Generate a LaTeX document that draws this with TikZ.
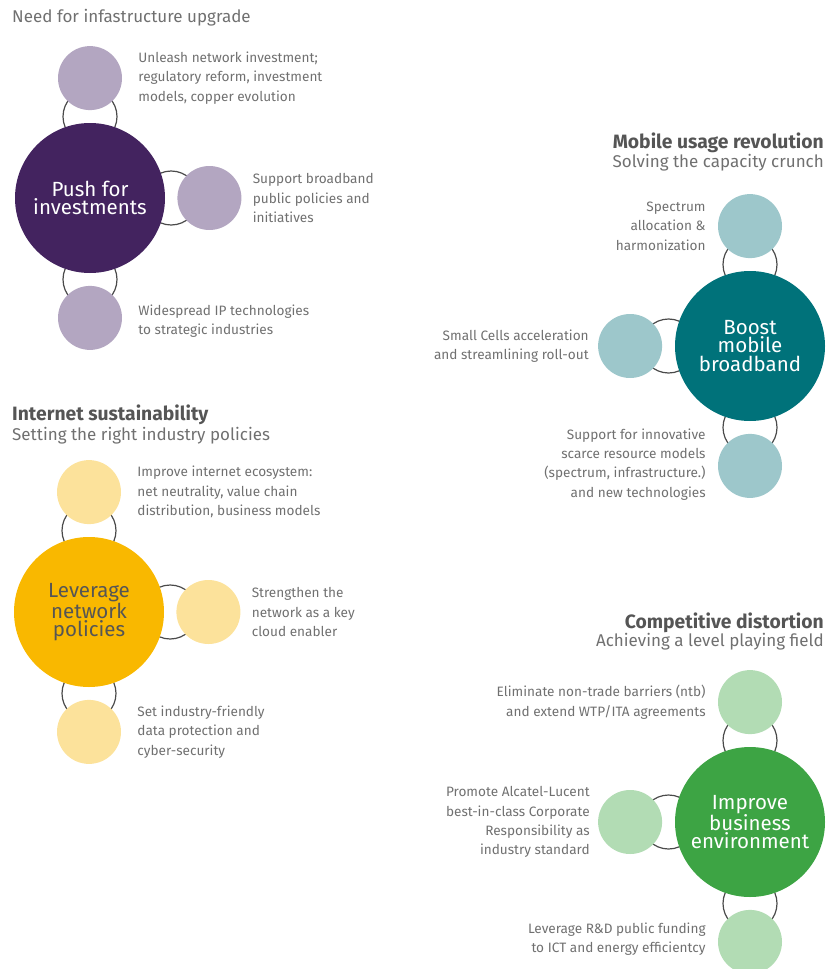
\documentclass[tikz,border=0pt]{standalone}
\usepackage{fontspec}
\setmainfont{Fira Sans}
\usepackage{xcolor}
\usetikzlibrary{positioning, backgrounds, calc}

\definecolor{purpleDark}{HTML}{43235F}
\definecolor{purpleLight}{HTML}{B3A6C1}
\definecolor{tealDark}{HTML}{00727A}
\definecolor{tealLight}{HTML}{9DC7CB}
\definecolor{yellowDark}{HTML}{F9B800}
\definecolor{yellowLight}{HTML}{FCE29B}
\definecolor{greenDark}{HTML}{3DA444}
\definecolor{greenLight}{HTML}{B2DCB4}
\definecolor{noteGray}{HTML}{707070}
\definecolor{headGray}{HTML}{555555}
\definecolor{ringGray}{HTML}{4A4A4A}

\begin{document}
\begin{tikzpicture}[x=1pt, y=1pt,
		hub/.style={circle, minimum size=150pt, inner sep=0pt, align=center, text=white,
			font=\fontsize{20.5}{18.5}\selectfont},
		spoke/.style={circle, minimum size=64pt, inner sep=0pt},
		ring/.style={circle, draw=ringGray, line width=1.2pt, minimum size=54pt, inner sep=0pt},
		note/.style={text=noteGray, inner sep=0pt, font=\fontsize{13.6}{19.3}\selectfont},
		head/.style={text=headGray, inner sep=0pt, font=\bfseries\fontsize{19.3}{20}\selectfont},
		subhead/.style={text=noteGray, inner sep=0pt, font=\fontsize{17}{20}\selectfont}]
		\useasboundingbox (0,0) rectangle (827,-969);

		% Push for investments
		\node[subhead, anchor=west] (pushsub) at (12,-18) {Need for infastructure upgrade};
		\node[hub, fill=purpleDark] (push) at (90,-198) {Push for\\investments};
		\node[spoke, fill=purpleLight, above=12.5pt of push] (push1) {};
		\node[spoke, fill=purpleLight, right=12pt of push] (push2) {};
		\node[spoke, fill=purpleLight, below=12.5pt of push] (push3) {};
		\node[note, right=16pt of push1, align=left] (push1t) {Unleash network investment;\\regulatory reform, investment\\models, copper evolution};
		\node[note, right=11pt of push2, align=left] (push2t) {Support broadband\\public policies and\\initiatives};
		\node[note, right=16pt of push3, yshift=-3pt, align=left] (push3t) {Widespread IP technologies\\to strategic industries};

		% Boost mobile broadband
		\node[head, anchor=east] (boosthead) at (824,-143) {Mobile usage revolution};
		\node[subhead, anchor=east] (boostsub) at (824,-163) {Solving the capacity crunch};
		\node[hub, fill=tealDark] (boost) at (750,-346) {Boost\\mobile\\broadband};
		\node[spoke, fill=tealLight, above=12.5pt of boost] (boost1) {};
		\node[spoke, fill=tealLight, left=12.5pt of boost] (boost2) {};
		\node[spoke, fill=tealLight, below=12.5pt of boost] (boost3) {};
		\node[note, left=12pt of boost1, align=right] (boost1t) {Spectrum\\allocation \& \\harmonization};
		\node[note, left=9pt of boost2, align=right] (boost2t) {Small Cells acceleration\\and streamlining roll-out};
		\node[note, left=12pt of boost3, yshift=1.5pt, align=right] (boost3t) {Support for innovative \\scarce resource models\\(spectrum, infrastructure.)\\and new technologies};

		% Leverage network policies
		\node[head, anchor=west] (levhead) at (12,-415) {Internet sustainability};
		\node[subhead, anchor=west] (levsub) at (12,-436) {Setting the right industry policies};
		\node[hub, fill=yellowDark, text=headGray] (lev) at (89,-612) {Leverage\\network\\policies};
		\node[spoke, fill=yellowLight, above=12.5pt of lev] (lev1) {};
		\node[spoke, fill=yellowLight, right=12pt of lev] (lev2) {};
		\node[spoke, fill=yellowLight, below=12.5pt of lev] (lev3) {};
		\node[note, right=16pt of lev1, align=left] (lev1t) {Improve internet ecosystem:\\net neutrality, value chain\\distribution, business models};
		\node[note, right=11pt of lev2, align=left] (lev2t) {Strengthen the\\network as a key\\cloud enabler};
		\node[note, right=16pt of lev3, align=left] (lev3t) {Set industry-friendly\\data protection and\\cyber-security};

		% Improve business environment
		\node[head, anchor=east] (bizhead) at (824,-623) {Competitive distortion};
		\node[subhead, anchor=east] (bizsub) at (824,-642) {Achieving a level playing field};
		\node[hub, fill=greenDark] (biz) at (750,-822) {Improve\\business\\environment};
		\node[spoke, fill=greenLight, above=12.5pt of biz] (biz1) {};
		\node[spoke, fill=greenLight, left=12.5pt of biz] (biz2) {};
		\node[spoke, fill=greenLight, below=12.5pt of biz] (biz3) {};
		\node[note, left=12pt of biz1, align=right] (biz1t) {Eliminate non-trade barriers (ntb)\\and extend WTP/ITA agreements};
		\node[note, left=8pt of biz2, align=right] (biz2t) {Promote Alcatel-Lucent \\best-in-class Corporate \\Responsibility as \\industry standard};
		\node[note, left=12pt of biz3, yshift=2.5pt, align=right] (biz3t) {Leverage R\&D public funding\\to ICT and energy efficientcy};

		% Rings
		\begin{scope}[on background layer]
			\node[ring] (pushr1) at ($(push.north)!0.5!(push1.south)$) {};
			\node[ring] (pushr2) at ($(push.east)!0.5!(push2.west)$) {};
			\node[ring] (pushr3) at ($(push.south)!0.5!(push3.north)$) {};
			\node[ring] (boostr1) at ($(boost.north)!0.5!(boost1.south)$) {};
			\node[ring] (boostr2) at ($(boost.west)!0.5!(boost2.east)$) {};
			\node[ring] (boostr3) at ($(boost.south)!0.5!(boost3.north)$) {};
			\node[ring] (levr1) at ($(lev.north)!0.5!(lev1.south)$) {};
			\node[ring] (levr2) at ($(lev.east)!0.5!(lev2.west)$) {};
			\node[ring] (levr3) at ($(lev.south)!0.5!(lev3.north)$) {};
			\node[ring] (bizr1) at ($(biz.north)!0.5!(biz1.south)$) {};
			\node[ring] (bizr2) at ($(biz.west)!0.5!(biz2.east)$) {};
			\node[ring] (bizr3) at ($(biz.south)!0.5!(biz3.north)$) {};
		\end{scope}
	\end{tikzpicture}
\end{document}
